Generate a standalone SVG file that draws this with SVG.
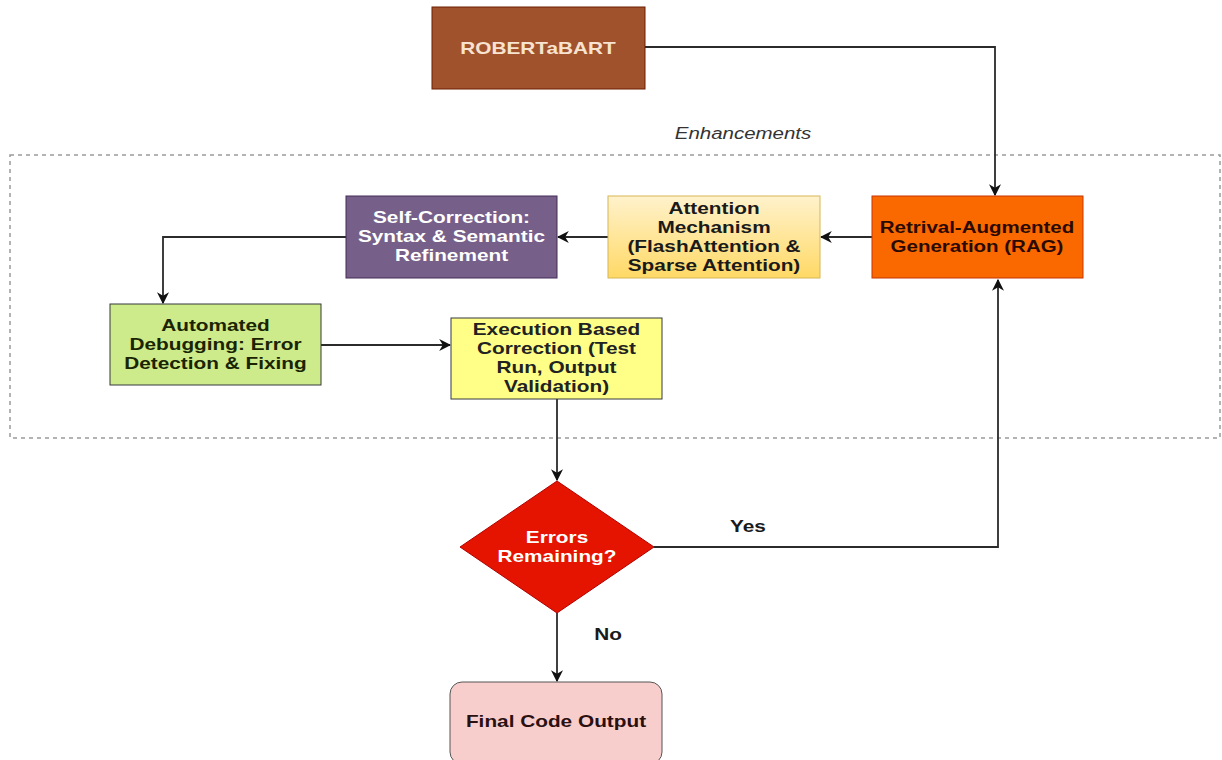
<svg xmlns="http://www.w3.org/2000/svg" width="1222" height="760" viewBox="0 0 1222 760">
<defs>
<marker id="arr" viewBox="0 0 10 10" refX="9" refY="5" markerWidth="12" markerHeight="12" markerUnits="userSpaceOnUse" orient="auto">
<path d="M0,0 L10,5 L0,10 L3,5 Z" fill="#111"/>
</marker>
<linearGradient id="gAtt" x1="0" y1="0" x2="0" y2="1">
<stop offset="0" stop-color="#fff2cc"/>
<stop offset="1" stop-color="#ffd966"/>
</linearGradient>
</defs>
<style>
text{font-family:"Liberation Sans",Arial,sans-serif;font-size:16px;font-weight:bold;text-anchor:middle}
.conn{fill:none;stroke:#2b2b2b;stroke-width:1.8;marker-end:url(#arr)}
.dark{fill:#1a1a1a}
.white{fill:#ffffff}
</style>
<rect width="1222" height="760" fill="#ffffff"/>
<rect x="10" y="155" width="1210" height="283" fill="none" stroke="#9a9a9a" stroke-width="1.5" stroke-dasharray="4 4"/>
<text x="0" y="139" transform="matrix(1.28 0 0 1 743 0)" style="font-style:italic;font-weight:normal;fill:#333">Enhancements</text>
<g id="connectors">
<path class="conn" d="M645,47 H995 V195"/>
<path class="conn" d="M872,237 H821"/>
<path class="conn" d="M608,237 H558"/>
<path class="conn" d="M346,237 H163 V303"/>
<path class="conn" d="M321,345 H450"/>
<path class="conn" d="M557,399 V480"/>
<path class="conn" d="M654,547 H998 V280"/>
<path class="conn" d="M557,613 V681"/>
<text x="0" y="532" transform="matrix(1.3 0 0 1 748 0)" class="dark">Yes</text>
<text x="0" y="640" transform="matrix(1.3 0 0 1 608 0)" class="dark">No</text>
</g>
<g id="robertabart">
<rect x="432" y="7" width="213" height="82" fill="#a0522d" stroke="#6d1f00"/>
<text x="0" y="54" transform="matrix(1.3 0 0 1 538 0)" style="fill:#f7e3cf">ROBERTaBART</text>
</g>
<g id="rag">
<rect x="872" y="196" width="211" height="82" fill="#fa6800" stroke="#c73500"/>
<text transform="matrix(1.28 0 0 1 977 0)" style="fill:#2a0a00"><tspan x="0" y="233">Retrival-Augmented</tspan><tspan x="0" y="252">Generation (RAG)</tspan></text>
</g>
<g id="attention">
<rect x="608" y="196" width="212" height="82" fill="url(#gAtt)" stroke="#d6b656"/>
<text transform="matrix(1.3 0 0 1 714 0)" class="dark"><tspan x="0" y="214">Attention</tspan><tspan x="0" y="233">Mechanism</tspan><tspan x="0" y="252">(FlashAttention &amp;</tspan><tspan x="0" y="271">Sparse Attention)</tspan></text>
</g>
<g id="selfcorrection">
<rect x="346" y="196" width="211" height="82" fill="#76608a" stroke="#432d57"/>
<text transform="matrix(1.3 0 0 1 451.5 0)" class="white"><tspan x="0" y="223">Self-Correction:</tspan><tspan x="0" y="242">Syntax &amp; Semantic</tspan><tspan x="0" y="261">Refinement</tspan></text>
</g>
<g id="debugging">
<rect x="110" y="304" width="211" height="81" fill="#cdeb8b" stroke="#36393d"/>
<text transform="matrix(1.3 0 0 1 215.5 0)" style="fill:#1a2400"><tspan x="0" y="331">Automated</tspan><tspan x="0" y="350">Debugging: Error</tspan><tspan x="0" y="369">Detection &amp; Fixing</tspan></text>
</g>
<g id="execution">
<rect x="451" y="318" width="211" height="81" fill="#ffff88" stroke="#36393d"/>
<text transform="matrix(1.3 0 0 1 556.5 0)" style="fill:#222"><tspan x="0" y="335">Execution Based</tspan><tspan x="0" y="354">Correction (Test</tspan><tspan x="0" y="373">Run, Output</tspan><tspan x="0" y="392">Validation)</tspan></text>
</g>
<g id="decision">
<polygon points="557,481 654,547 557,613 460,547" fill="#e51400" stroke="#b20000"/>
<text transform="matrix(1.3 0 0 1 557 0)" class="white"><tspan x="0" y="543">Errors</tspan><tspan x="0" y="562">Remaining?</tspan></text>
</g>
<g id="final">
<rect x="450" y="682" width="212" height="82" rx="12" ry="12" fill="#f8cecc" stroke="#555"/>
<text x="0" y="727" transform="matrix(1.3 0 0 1 556 0)" style="fill:#2a1010">Final Code Output</text>
</g>
</svg>
